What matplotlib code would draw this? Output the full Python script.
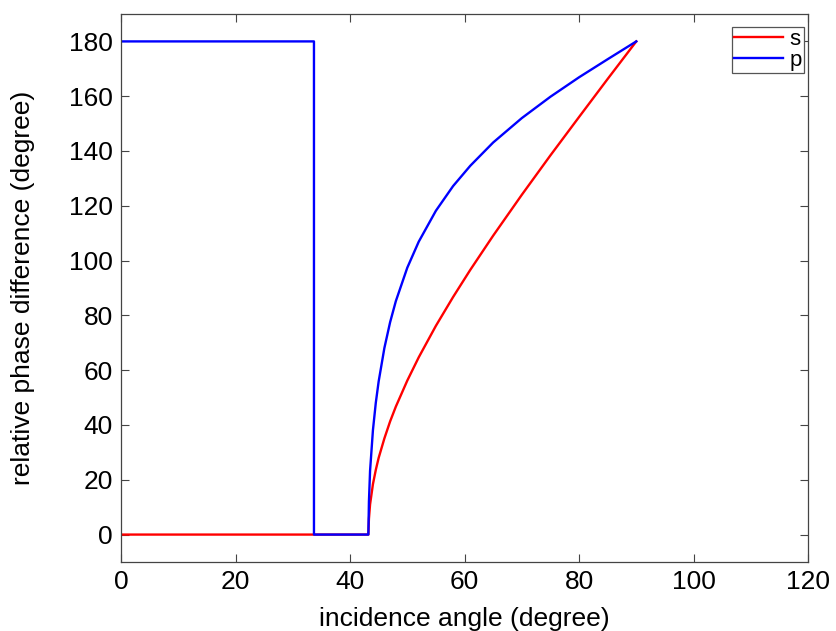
import numpy as np
import matplotlib.pyplot as plt

plt.rcParams['font.family'] = ['Liberation Sans', 'DejaVu Sans']

# s polarisation (red): zero below the critical angle, then rising to 180
s_angle = [0, 43.2, 43.3, 43.5, 44, 44.5, 45, 46, 47, 48, 50, 52, 55, 58,
           61, 65, 70, 75, 80, 85, 90]
s_phase = [0, 0, 5.7, 11.0, 18.4, 23.6, 28.0, 35.1, 41.3, 46.7, 56.2, 64.7,
           76.2, 86.7, 96.6, 109.1, 124.0, 138.4, 152.4, 166.3, 180]

# p polarisation (blue): 180 up to the Brewster angle, 0 up to critical
p_angle = [0, 33.7, 33.7, 43.2, 43.3, 43.5, 44, 44.5, 45, 46, 47, 48, 50,
           52, 55, 58, 61, 65, 70, 75, 80, 85, 90]
p_phase = [180, 180, 0, 0, 12.0, 23.3, 38.1, 48.1, 55.9, 68.1, 77.5, 85.2,
           97.4, 106.9, 118.2, 127.2, 134.6, 143.1, 152.0, 159.8, 166.9,
           173.5, 180]

x_ticks = [0, 20, 40, 60, 80, 100, 120]
y_ticks = [0, 20, 40, 60, 80, 100, 120, 140, 160, 180]

fig = plt.figure(figsize=(8.37, 6.31), dpi=100)
ax = fig.add_axes([0.1446, 0.1094, 0.8208, 0.8684])

ax.plot(s_angle, s_phase, color='#ff0000', lw=1.7, label='s')
ax.plot(p_angle, p_phase, color='#0000ff', lw=1.7, label='p')

ax.set_xlim(0, 120)
ax.set_ylim(-10, 190)
ax.set_xticks(x_ticks)
ax.set_yticks(y_ticks)
ax.tick_params(direction='in', top=True, right=True, labelsize=19,
               length=6, width=0.8, color='#444444', pad=6)
for sp in ax.spines.values():
    sp.set_color('#444444')
    sp.set_linewidth(0.9)

ax.set_xlabel('incidence angle (degree)', fontsize=19, labelpad=9)
ax.set_ylabel('relative phase difference (degree)', fontsize=19, labelpad=24)

leg = ax.legend(loc='upper right', bbox_to_anchor=(0.994, 0.977),
                fontsize=16, fancybox=False,
                edgecolor='#555555', framealpha=1, handlelength=2.2,
                handletextpad=0.3, labelspacing=0.0, borderpad=0.1,
                borderaxespad=0.0)
leg.get_frame().set_linewidth(0.9)

fig.savefig('out.png', dpi=100)
